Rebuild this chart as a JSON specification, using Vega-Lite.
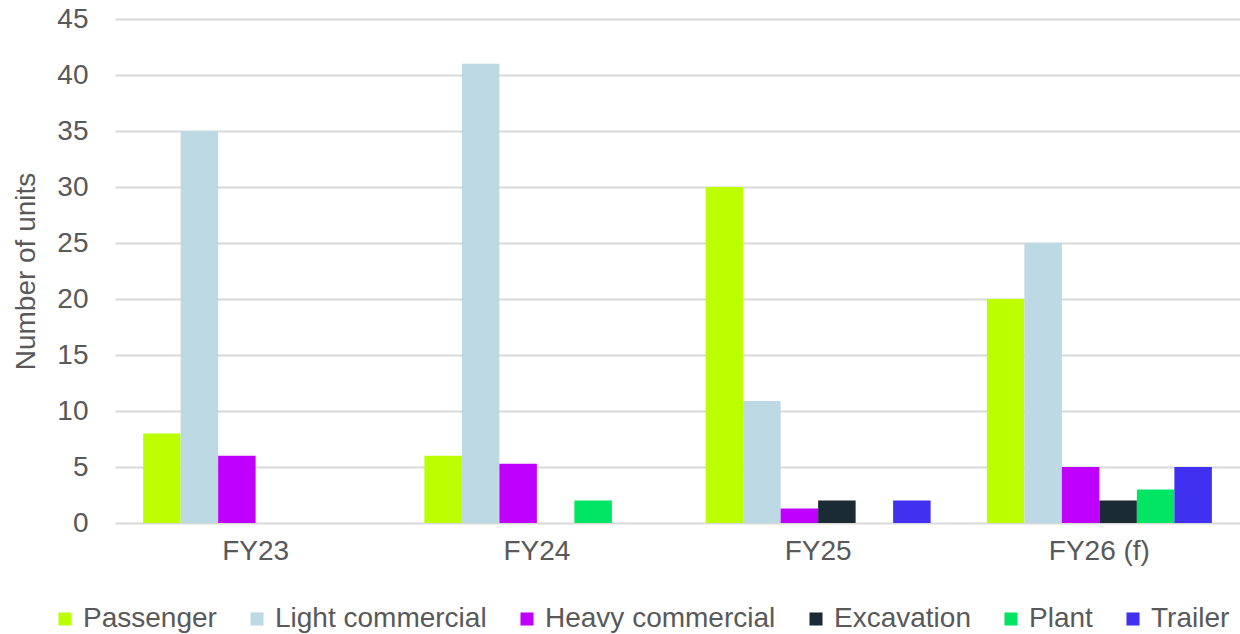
{
  "$schema": "https://vega.github.io/schema/vega-lite/v6.json",
  "width": 1125,
  "height": 504,
  "autosize": {"type": "none"},
  "padding": {"left": 115, "top": 19, "right": 0, "bottom": 111},
  "background": "#ffffff",
  "config": {
    "view": {"stroke": null},
    "font": "Liberation Sans"
  },
  "data": {
    "values": [
      {"year": "FY23", "type": "Passenger", "units": 8},
      {"year": "FY23", "type": "Light commercial", "units": 35},
      {"year": "FY23", "type": "Heavy commercial", "units": 6},
      {"year": "FY23", "type": "Excavation", "units": 0},
      {"year": "FY23", "type": "Plant", "units": 0},
      {"year": "FY23", "type": "Trailer", "units": 0},
      {"year": "FY24", "type": "Passenger", "units": 6},
      {"year": "FY24", "type": "Light commercial", "units": 41},
      {"year": "FY24", "type": "Heavy commercial", "units": 5.3},
      {"year": "FY24", "type": "Excavation", "units": 0},
      {"year": "FY24", "type": "Plant", "units": 2},
      {"year": "FY24", "type": "Trailer", "units": 0},
      {"year": "FY25", "type": "Passenger", "units": 30},
      {"year": "FY25", "type": "Light commercial", "units": 10.9},
      {"year": "FY25", "type": "Heavy commercial", "units": 1.3},
      {"year": "FY25", "type": "Excavation", "units": 2},
      {"year": "FY25", "type": "Plant", "units": 0},
      {"year": "FY25", "type": "Trailer", "units": 2},
      {"year": "FY26 (f)", "type": "Passenger", "units": 20},
      {"year": "FY26 (f)", "type": "Light commercial", "units": 25},
      {"year": "FY26 (f)", "type": "Heavy commercial", "units": 5},
      {"year": "FY26 (f)", "type": "Excavation", "units": 2},
      {"year": "FY26 (f)", "type": "Plant", "units": 3},
      {"year": "FY26 (f)", "type": "Trailer", "units": 5}
    ]
  },
  "mark": {"type": "bar"},
  "encoding": {
    "x": {
      "field": "year",
      "type": "nominal",
      "sort": ["FY23", "FY24", "FY25", "FY26 (f)"],
      "scale": {"paddingInner": 0.2, "paddingOuter": 0.1},
      "axis": {
        "title": null,
        "labelAngle": 0,
        "labelFontSize": 28,
        "labelColor": "#595959",
        "domain": false,
        "ticks": false,
        "labelPadding": 14
      }
    },
    "xOffset": {
      "field": "type",
      "sort": ["Passenger", "Light commercial", "Heavy commercial", "Excavation", "Plant", "Trailer"],
      "scale": {"paddingInner": 0, "paddingOuter": 0}
    },
    "y": {
      "field": "units",
      "type": "quantitative",
      "scale": {"domain": [0, 45]},
      "axis": {
        "values": [0, 5, 10, 15, 20, 25, 30, 35, 40, 45],
        "title": "Number of units",
        "titleFontSize": 28,
        "titleFontWeight": "normal",
        "titleColor": "#595959",
        "titlePadding": 16,
        "labelFontSize": 28,
        "labelColor": "#595959",
        "labelPadding": 27,
        "domain": false,
        "ticks": false,
        "gridColor": "#D9D9D9",
        "gridWidth": 2
      }
    },
    "color": {
      "field": "type",
      "type": "nominal",
      "scale": {
        "domain": ["Passenger", "Light commercial", "Heavy commercial", "Excavation", "Plant", "Trailer"],
        "range": ["#BBFF00", "#BDD9E4", "#C000FF", "#1B2B35", "#00E564", "#4030F0"]
      },
      "legend": {
        "title": null,
        "orient": "none",
        "direction": "horizontal",
        "legendX": -64,
        "legendY": 586,
        "symbolType": "square",
        "symbolSize": 170,
        "symbolStrokeWidth": 0,
        "labelFontSize": 28,
        "labelColor": "#595959",
        "labelOffset": 4,
        "labelLimit": 400,
        "columnPadding": 26
      }
    }
  }
}
